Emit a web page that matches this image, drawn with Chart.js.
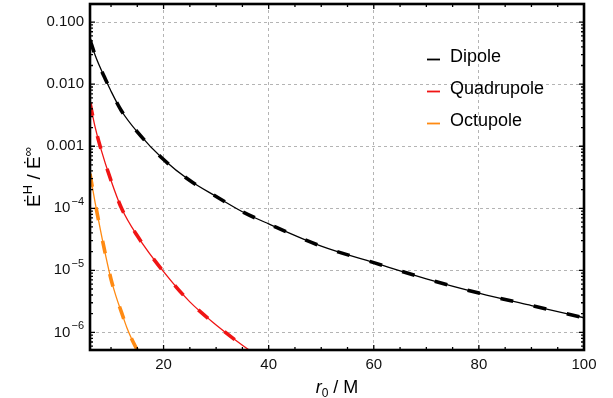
<!DOCTYPE html>
<html>
<head>
<meta charset="utf-8">
<script src="https://cdn.jsdelivr.net/npm/chart.js@4.4.1/dist/chart.umd.min.js"></script>
<style>
  body { margin: 0; background: #fff; }
  canvas { display: block; }
</style>
</head>
<body>
<canvas id="chart" width="613" height="398"></canvas>
<script>
// ---------- values ----------
const seriesNames = ["Dipole", "Quadrupole", "Octupole"];

const dipoleR = [6, 7, 8, 9, 10, 12, 15, 20, 25, 30, 35, 40, 50, 60, 70, 80, 90, 100];
const dipoleFlux = [0.052, 0.029, 0.018, 0.0117, 0.0077, 0.0037, 0.0017, 6.1e-4, 2.8e-4,
  1.55e-4, 8.8e-5, 5.6e-5, 2.45e-5, 1.33e-5, 7.3e-6, 4.3e-6, 2.7e-6, 1.72e-6];

const quadR = [6, 7, 8, 10, 12, 15, 20, 25, 30, 35, 40];
const quadFlux = [0.005, 2.0e-3, 9.5e-4, 2.8e-4, 1.0e-4, 3.6e-5, 9.5e-6, 3.1e-6, 1.32e-6, 6.2e-7, 3.2e-7];

const octR = [6, 7, 8, 9, 10, 11, 12, 13, 14, 15, 16];
const octFlux = [3.6e-4, 1.2e-4, 4.4e-5, 1.7e-5, 7.2e-6, 3.7e-6, 2.1e-6, 1.2e-6, 7.6e-7, 5.2e-7, 3.6e-7];

const xTicks = [20, 40, 60, 80, 100];
const yTicks = [1e-6, 1e-5, 1e-4, 1e-3, 1e-2, 1e-1];
const yTickLabels = ["10^−6", "10^−5", "10^−4", "0.001", "0.010", "0.100"];

// ---------- styling ----------
const colors = ["#000000", "#f01414", "#ff8a12"];
const FONT = "'Liberation Sans', Arial, Helvetica, sans-serif";

const toPoints = (r, f) => r.map((x, i) => ({ x, y: f[i] }));
const curves = [
  toPoints(dipoleR, dipoleFlux),
  toPoints(quadR, quadFlux),
  toPoints(octR, octFlux),
];

const datasets = [];
curves.forEach((pts, i) => {
  // thick dashed overlay
  datasets.push({
    label: seriesNames[i] + " (dashed)",
    data: pts,
    borderColor: colors[i],
    borderWidth: 3.6,
    borderDash: [13, 21],
    pointRadius: 0,
    cubicInterpolationMode: "monotone",
    order: 0,
  });
  // thin solid curve
  datasets.push({
    label: seriesNames[i],
    data: pts,
    borderColor: colors[i],
    borderWidth: 1.3,
    pointRadius: 0,
    cubicInterpolationMode: "monotone",
    order: 1,
  });
});

// ---------- frame with inward ticks ----------
const framePlugin = {
  id: "frame",
  afterDatasetsDraw(chart) {
    const { ctx, chartArea: a, scales } = chart;
    const x = scales.x, y = scales.y;
    ctx.save();
    ctx.strokeStyle = "#000";
    ctx.lineWidth = 1.3;
    ctx.beginPath();
    for (let v = 10; v <= 100; v += 5) {
      const px = x.getPixelForValue(v);
      const len = v % 20 === 0 ? 5 : 3;
      ctx.moveTo(px, a.bottom); ctx.lineTo(px, a.bottom - len);
      ctx.moveTo(px, a.top); ctx.lineTo(px, a.top + len);
    }
    for (let d = 1e-7; d < 1; d *= 10) {
      for (let k = 1; k <= 9; k++) {
        const v = k * d;
        if (v < y.min || v > y.max) continue;
        const py = y.getPixelForValue(v);
        const len = k === 1 ? 5 : 3;
        ctx.moveTo(a.left, py); ctx.lineTo(a.left + len, py);
        ctx.moveTo(a.right, py); ctx.lineTo(a.right - len, py);
      }
    }
    ctx.stroke();
    ctx.lineWidth = 2.6;
    ctx.strokeRect(a.left, a.top, a.right - a.left, a.bottom - a.top);

    // y tick labels, with real superscript exponents
    ctx.fillStyle = "#111";
    ctx.textBaseline = "middle";
    ctx.textAlign = "left";
    yTicks.forEach((v, i) => {
      const py = y.getPixelForValue(v);
      const [base, exp] = yTickLabels[i].split("^");
      ctx.font = "15px " + FONT;
      const wb = ctx.measureText(base).width;
      let we = 0;
      if (exp) { ctx.font = "11px " + FONT; we = ctx.measureText(exp).width + 1; }
      const right = a.left - 6;
      ctx.font = "15px " + FONT;
      ctx.fillText(base, right - we - wb, py);
      if (exp) {
        ctx.font = "11px " + FONT;
        ctx.fillText(exp, right - we + 1, py - 6);
      }
    });
    ctx.restore();
  },
};

// ---------- legend in the upper right ----------
const legendPlugin = {
  id: "cornerLegend",
  afterDraw(chart) {
    const ctx = chart.ctx;
    ctx.save();
    ctx.font = "18px " + FONT;
    ctx.textBaseline = "middle";
    seriesNames.forEach((name, i) => {
      const yy = 57 + i * 32;
      ctx.strokeStyle = colors[i];
      ctx.lineWidth = 1.8;
      ctx.beginPath();
      ctx.moveTo(427, yy + 2.5);
      ctx.lineTo(440, yy + 2.5);
      ctx.stroke();
      ctx.fillStyle = "#000";
      ctx.fillText(name, 450, yy);
    });
    ctx.restore();
  },
};

// ---------- axis titles (italic r, sub/superscripts) ----------
function drawRuns(ctx, runs, cx, baseY) {
  let total = 0;
  runs.forEach(r => { ctx.font = r.font; r.w = ctx.measureText(r.text).width; total += r.w; });
  let pos = cx - total / 2;
  runs.forEach(r => {
    ctx.font = r.font;
    ctx.fillText(r.text, pos, baseY + (r.dy || 0));
    pos += r.w;
  });
}

const titlesPlugin = {
  id: "axisTitles",
  afterDraw(chart) {
    const { ctx, chartArea: a } = chart;
    ctx.save();
    ctx.fillStyle = "#000";
    ctx.textBaseline = "alphabetic";
    ctx.textAlign = "left";
    drawRuns(ctx, [
      { text: "r", font: "italic 18px " + FONT },
      { text: "0", font: "12px " + FONT, dy: 4 },
      { text: " / M", font: "18px " + FONT },
    ], (a.left + a.right) / 2, 393);

    ctx.translate(40, (a.top + a.bottom) / 2);
    ctx.rotate(-Math.PI / 2);
    drawRuns(ctx, [
      { text: "Ė", font: "19px " + FONT },
      { text: "H", font: "13px " + FONT, dy: -8 },
      { text: " / ", font: "19px " + FONT },
      { text: "Ė", font: "19px " + FONT },
      { text: "∞", font: "13px " + FONT, dy: -8 },
    ], 0, 0);
    ctx.restore();
  },
};

new Chart(document.getElementById("chart"), {
  type: "line",
  data: { datasets },
  options: {
    responsive: false,
    animation: false,
    layout: { padding: { top: 4, right: 29, left: 0, bottom: 0 } },
    plugins: {
      legend: { display: false },
      tooltip: { enabled: false },
    },
    scales: {
      x: {
        type: "linear",
        min: 6,
        max: 100,
        afterBuildTicks: (s) => { s.ticks = xTicks.map(v => ({ value: v })); },
        afterFit: (s) => { s.height = 48; },
        grid: { color: "#b4b4b4", lineWidth: 1, drawTicks: false },
        border: { display: false, dash: [3, 3] },
        ticks: {
          padding: 6,
          color: "#111",
          font: { family: FONT, size: 15 },
          maxRotation: 0,
        },
      },
      y: {
        type: "logarithmic",
        min: 5.2e-7,
        max: 0.196,
        afterBuildTicks: (s) => { s.ticks = yTicks.map(v => ({ value: v })); },
        afterFit: (s) => { s.width = 90; },
        grid: { color: "#b4b4b4", lineWidth: 1, drawTicks: false },
        border: { display: false, dash: [3, 3] },
        ticks: { display: false },
      },
    },
  },
  plugins: [framePlugin, legendPlugin, titlesPlugin],
});
</script>
</body>
</html>
